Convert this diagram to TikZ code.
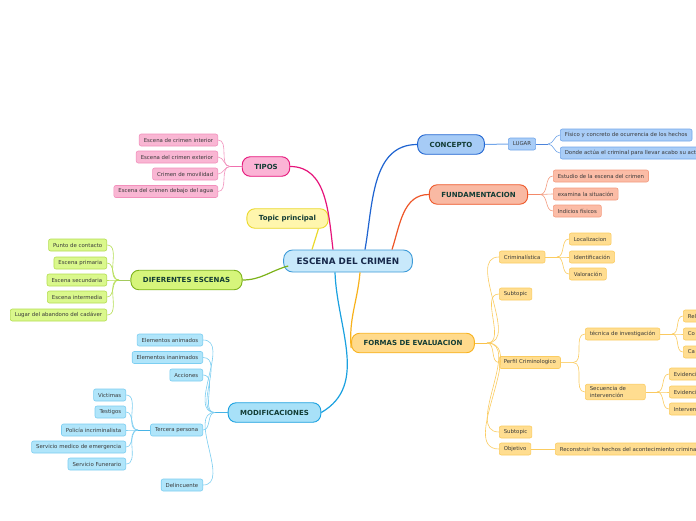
\documentclass[tikz,border=0pt]{standalone}
\usepackage{fontspec}
\setmainfont{DejaVu Sans}
\usetikzlibrary{positioning}

\definecolor{rootfill}{HTML}{C8E9FB}
\definecolor{rootline}{HTML}{3D9BD8}
\definecolor{navytext}{HTML}{16284A}
\definecolor{maintext}{HTML}{123C34}
\definecolor{leaftext}{HTML}{3A3A3A}
% branch colours
\definecolor{pinkfill}{HTML}{FBB3D5}
\definecolor{pinkline}{HTML}{E6137A}
\definecolor{pinkleaf}{HTML}{F9B6D3}
\definecolor{pinkedge}{HTML}{F290BC}
\definecolor{greenfill}{HTML}{D6F57B}
\definecolor{greenline}{HTML}{7DB31A}
\definecolor{greenleaf}{HTML}{DAF88C}
\definecolor{greenedge}{HTML}{B5DE52}
\definecolor{bluefill}{HTML}{A6CBF6}
\definecolor{blueline}{HTML}{1F64D1}
\definecolor{blueleaf}{HTML}{A9CDF7}
\definecolor{blueedge}{HTML}{72A6EA}
\definecolor{salmfill}{HTML}{F9B9A3}
\definecolor{salmline}{HTML}{EE5628}
\definecolor{salmleaf}{HTML}{FBBCA6}
\definecolor{salmedge}{HTML}{F49C80}
\definecolor{goldfill}{HTML}{FFDA8C}
\definecolor{goldline}{HTML}{F8B21C}
\definecolor{goldleaf}{HTML}{FFDD90}
\definecolor{goldedge}{HTML}{FBCC60}
\definecolor{cyanfill}{HTML}{A8E1F8}
\definecolor{cyanline}{HTML}{1AA1E0}
\definecolor{cyanleaf}{HTML}{B0E5FA}
\definecolor{cyanedge}{HTML}{7CCEF1}
\definecolor{yelfill}{HTML}{FFF6AD}
\definecolor{yelline}{HTML}{EBD92C}

\tikzset{
  rootbox/.style={draw=rootline, fill=rootfill, rounded corners=9pt, line width=0.9pt, text=navytext, font=\fontsize{8.8}{10}\selectfont\bfseries, inner xsep=13pt, minimum height=22pt},
  mainbox/.style={rounded corners=8pt, line width=0.9pt, text=maintext, font=\fontsize{7}{8}\selectfont\bfseries, inner xsep=12pt, minimum height=19.5pt},
  leafbox/.style={rounded corners=2pt, line width=0.6pt, text=leaftext, font=\fontsize{5.4}{6.3}\selectfont, inner xsep=4.5pt, inner ysep=0pt, minimum height=12pt},
  mainlink/.style={line width=1.2pt},
  stemlink/.style={line width=1pt},
  leaflink/.style={line width=0.6pt},
  pinkbox/.style={leafbox, draw=pinkedge, fill=pinkleaf},
  greenbox/.style={leafbox, draw=greenedge, fill=greenleaf},
  bluebox/.style={leafbox, draw=blueedge, fill=blueleaf},
  salmbox/.style={leafbox, draw=salmedge, fill=salmleaf},
  goldbox/.style={leafbox, draw=goldedge, fill=goldleaf},
  cyanbox/.style={leafbox, draw=cyanedge, fill=cyanleaf}
}

\begin{document}
\begin{tikzpicture}[x=1pt, y=-1pt]
  \fill[white] (0,0) rectangle (696,520);
  \useasboundingbox (0,0) rectangle (696,520);
  \clip (0,0) rectangle (696,520);

  % centre and main topics
  \node[rootbox] (root) at (348,261) {ESCENA DEL CRIMEN};
  \node[mainbox, draw=yelline, fill=yelfill] (topic) at (287.5,218.5) {Topic principal};
  \node[mainbox, draw=pinkline, fill=pinkfill] (tipos) at (266,166.5) {TIPOS};
  \node[mainbox, draw=blueline, fill=bluefill] (concepto) at (451,144.5) {CONCEPTO};
  \node[mainbox, draw=salmline, fill=salmfill] (fund) at (478.5,194.5) {FUNDAMENTACION};
  \node[mainbox, draw=greenline, fill=greenfill] (difesc) at (186.5,280) {DIFERENTES ESCENAS};
  \node[mainbox, draw=cyanline, fill=cyanfill] (modif) at (274.5,412.5) {MODIFICACIONES};
  \node[mainbox, draw=goldline, fill=goldfill] (formas) at (413,343) {FORMAS DE EVALUACION};

  \draw[mainlink, yelline] ([xshift=-36pt]root.north) -- ([xshift=31pt]topic.south);
  \draw[mainlink, pinkline] ([xshift=-15pt]root.north) to[out=97,in=0] (tipos.east);
  \draw[mainlink, blueline] ([xshift=17pt]root.north) to[out=80,in=180] (concepto.west);
  \draw[mainlink, salmline] ([xshift=44pt]root.north) to[out=72,in=180] (fund.west);
  \draw[mainlink, greenline] ([xshift=5pt,yshift=-5pt]root.west) to[out=195,in=0] (difesc.east);
  \draw[mainlink, cyanline] ([xshift=-13pt]root.south) to[out=-88,in=30] (modif.east);
  \draw[mainlink, goldline] ([xshift=12pt]root.south) to[out=-95,in=95] ([yshift=-5pt]formas.west);

  % TIPOS
  \node[pinkbox, anchor=east] (t1) at (218,140) {Escena de crimen interior};
  \node[pinkbox, anchor=east] (t2) at (218,157) {Escena del crimen exterior};
  \node[pinkbox, anchor=east] (t3) at (218,174) {Crimen de movilidad};
  \node[pinkbox, anchor=east] (t4) at (218,191.5) {Escena del crimen debajo del agua};
  \coordinate (tb) at (230,166.5);
  \draw[stemlink, pinkline!60] (tipos.west) -- (tb);
  \foreach \c in {t1,t2,t3,t4}
    \draw[leaflink, pinkedge] (tb) to[out=180,in=0] (\c.east);

  % DIFERENTES ESCENAS
  \node[greenbox, anchor=east] (d1) at (107,245) {Punto de contacto};
  \node[greenbox, anchor=east] (d2) at (107,263) {Escena primaria};
  \node[greenbox, anchor=east] (d3) at (107,280) {Escena secundaria};
  \node[greenbox, anchor=east] (d4) at (107,297) {Escena intermedia};
  \node[greenbox, anchor=east] (d5) at (107,315) {Lugar del abandono del cadáver};
  \coordinate (db) at (119,280);
  \draw[stemlink, greenline!70] (difesc.west) -- (db);
  \foreach \c in {d1,d2,d3,d4,d5}
    \draw[leaflink, greenedge] (db) to[out=180,in=0] (\c.east);

  % CONCEPTO
  \node[bluebox, anchor=west] (lugar) at (508,144) {LUGAR};
  \draw[stemlink, blueedge] (concepto.east) -- (lugar.west);
  \node[bluebox, anchor=west] (c1) at (560,135) {Físico y concreto de ocurrencia de los hechos};
  \node[bluebox, anchor=west] (c2) at (560,153) {Donde actúa el criminal para llevar acabo su acto};
  \coordinate (lb) at (548,144);
  \draw[stemlink, blueline!80] (lugar.east) -- (lb);
  \foreach \c in {c1,c2}
    \draw[leaflink, blueedge] (lb) to[out=0,in=180] (\c.west);

  % FUNDAMENTACION
  \node[salmbox, anchor=west] (f1) at (553,176) {Estudio de la escena del crimen};
  \node[salmbox, anchor=west] (f2) at (553,194) {examina la situación};
  \node[salmbox, anchor=west] (f3) at (553,211) {Indicios físicos};
  \coordinate (fb) at (540,194.5);
  \draw[stemlink, salmline!70] (fund.east) -- (fb);
  \foreach \c in {f1,f2,f3}
    \draw[leaflink, salmedge] (fb) to[out=0,in=180] (\c.west);

  % FORMAS DE EVALUACION
  \node[goldbox, anchor=west] (e1) at (499,257) {Criminalística};
  \node[goldbox, anchor=west] (e2) at (499,294) {Subtopic};
  \node[goldbox, anchor=west] (e3) at (499,362.5) {Perfil Criminologico};
  \node[goldbox, anchor=west] (e4) at (499,432) {Subtopic};
  \node[goldbox, anchor=west] (e5) at (499,449) {Objetivo};
  \coordinate (eb) at (487,343);
  \draw[stemlink, goldline!80] (formas.east) -- (eb);
  \foreach \c in {e1,e2,e3,e4,e5}
    \draw[leaflink, goldedge] (eb) to[out=0,in=180] (\c.west);

  \node[goldbox, anchor=west] (k1) at (569,239) {Localizacion};
  \node[goldbox, anchor=west] (k2) at (569,257) {Identificación};
  \node[goldbox, anchor=west] (k3) at (569,274) {Valoración};
  \coordinate (kb) at (557,257);
  \draw[stemlink, goldedge] (e1.east) -- (kb);
  \foreach \c in {k1,k2,k3}
    \draw[leaflink, goldedge] (kb) to[out=0,in=180] (\c.west);

  \node[goldbox, anchor=west] (p1) at (585,334) {técnica de investigación};
  \node[goldbox, anchor=west, align=left, text width=51pt, inner ysep=2.5pt] (p2) at (585,392) {Secuencia de\\intervención};
  \coordinate (pb) at (573,362.5);
  \draw[stemlink, goldedge!80] (e3.east) -- (pb);
  \foreach \c in {p1,p2}
    \draw[leaflink, goldedge] (pb) to[out=0,in=180] (\c.west);

  \node[goldbox, anchor=west] (q1) at (683,316) {Rel};
  \node[goldbox, anchor=west] (q2) at (683,334) {Co};
  \node[goldbox, anchor=west] (q3) at (683,352) {Ca};
  \coordinate (qb) at (672,334);
  \draw[stemlink, goldline!70] (p1.east) -- (qb);
  \foreach \c in {q1,q2,q3}
    \draw[leaflink, goldedge] (qb) to[out=0,in=180] (\c.west);

  \node[goldbox, anchor=west] (s1) at (669,374) {Evidencia};
  \node[goldbox, anchor=west] (s2) at (669,392) {Evidencia};
  \node[goldbox, anchor=west] (s3) at (669,409) {Intervención};
  \coordinate (sb) at (657,392);
  \draw[stemlink, goldline!70] (p2.east) -- (sb);
  \foreach \c in {s1,s2,s3}
    \draw[leaflink, goldedge] (sb) to[out=0,in=180] (\c.west);

  \node[goldbox, anchor=west] (o1) at (555,449) {Reconstruir los hechos del acontecimiento criminal};
  \draw[leaflink, goldedge] (e5.east) -- (o1.west);

  % MODIFICACIONES
  \node[cyanbox, anchor=east] (m1) at (203,340) {Elementos animados};
  \node[cyanbox, anchor=east] (m2) at (203,357.5) {Elementos inanimados};
  \node[cyanbox, anchor=east] (m3) at (203,375) {Acciones};
  \node[cyanbox, anchor=east] (m4) at (203,430) {Tercera persona};
  \node[cyanbox, anchor=east] (m5) at (203,485) {Delincuente};
  \coordinate (mb) at (215,412.5);
  \draw[stemlink, cyanline!80] (modif.west) -- (mb);
  \foreach \c in {m1,m2,m3,m4,m5}
    \draw[leaflink, cyanedge] (mb) to[out=180,in=0] (\c.east);

  \node[cyanbox, anchor=east] (r1) at (126,395) {Victimas};
  \node[cyanbox, anchor=east] (r2) at (126,412) {Testigos};
  \node[cyanbox, anchor=east] (r3) at (126,430) {Policía incriminalista};
  \node[cyanbox, anchor=east] (r4) at (126,447) {Servicio medico de emergencia};
  \node[cyanbox, anchor=east] (r5) at (126,464) {Servicio Funerario};
  \coordinate (rb) at (138,430);
  \draw[stemlink, cyanline!80] (m4.west) -- (rb);
  \foreach \c in {r1,r2,r3,r4,r5}
    \draw[leaflink, cyanedge] (rb) to[out=180,in=0] (\c.east);
\end{tikzpicture}
\end{document}
